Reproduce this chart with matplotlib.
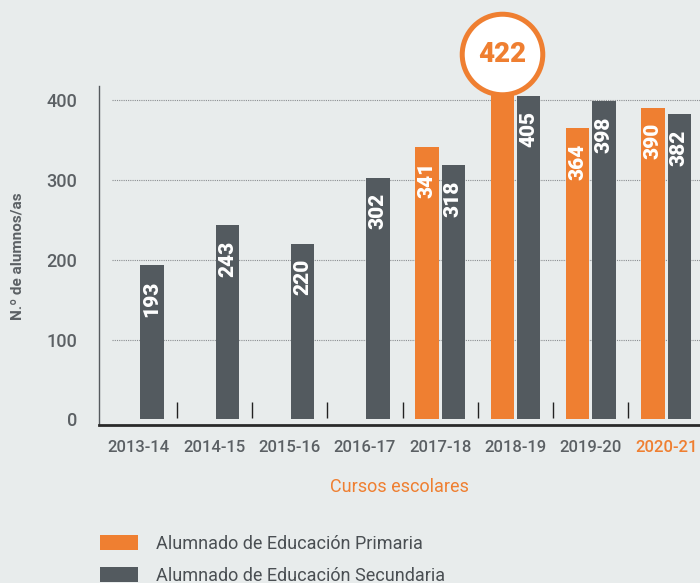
import numpy as np
import matplotlib
matplotlib.use('Agg')
import matplotlib.pyplot as plt

cursos = ['2013-14', '2014-15', '2015-16', '2016-17', '2017-18', '2018-19', '2019-20', '2020-21']
primaria = [np.nan, np.nan, np.nan, np.nan, 341, 422, 364, 390]
secundaria = [193, 243, 220, 302, 318, 405, 398, 382]
destacado = 5  # curso 2018-19, valor en círculo

ORANGE = '#ef7f31'
GRAY = '#535a5f'
BG = '#e8ecec'
TXT = '#5b6064'

plt.rcParams['font.family'] = ['Roboto', 'DejaVu Sans']

fig = plt.figure(figsize=(7, 5.83), dpi=100, facecolor=BG)
W, H = 700, 583
ax = fig.add_axes([99 / W, (H - 425) / H, (W - 99) / W, (425 - 86) / H])
ax.set_facecolor(BG)

x = np.arange(len(cursos))
off, bw = 0.175, 0.31

# grid
ax.hlines([100, 200, 300, 400], -0.357, 8, colors='#8a8d90', linestyles=(0, (1, 1)), lw=0.8, zorder=1)

prim = np.array(primaria, dtype=float)
mask = ~np.isnan(prim)
bp = ax.bar(x[mask] - off, prim[mask], width=bw, color=ORANGE, zorder=2, clip_on=False,
            label='Alumnado de Educación Primaria')
bs = ax.bar(x + off, secundaria, width=bw, color=GRAY, zorder=2,
            label='Alumnado de Educación Secundaria')

for xi, v in zip(x[mask], prim[mask]):
    if xi == destacado:
        continue
    ax.text(xi - off, v - 19, f'{int(v)}', rotation=90, ha='center', va='top',
            color='white', fontsize=15, fontweight='black', zorder=3)
for xi, v in zip(x, secundaria):
    ax.text(xi + off, v - 19, f'{v}', rotation=90, ha='center', va='top',
            color='white', fontsize=15, fontweight='black', zorder=3)

# círculo del valor destacado
ax.plot([destacado - off], [457], marker='o', markersize=58, markerfacecolor='white',
        markeredgecolor=ORANGE, markeredgewidth=3.6, clip_on=False, zorder=4)
ax.text(destacado - off, 457, f'{int(prim[destacado])}', ha='center', va='center',
        color=ORANGE, fontsize=20, fontweight='black', zorder=5, clip_on=False)

# separadores entre cursos
ax.vlines(x[:-1] + 0.5, 2, 22, colors='#222222', lw=1, zorder=2)

ax.set_xlim(-0.53, 7.45)
ax.set_ylim(-6.9, 417)
ax.set_yticks([0, 100, 200, 300, 400])
ax.set_xticks(x)
ax.set_xticklabels(cursos)
ax.tick_params(axis='both', length=0)
ax.tick_params(axis='y', pad=16, labelsize=13, labelcolor=TXT)
ax.tick_params(axis='x', pad=11, labelsize=12, labelcolor=TXT)
for lab in ax.get_xticklabels() + ax.get_yticklabels():
    lab.set_fontweight('medium')
ax.get_xticklabels()[-1].set_color(ORANGE)

for s in ['top', 'right']:
    ax.spines[s].set_visible(False)
ax.spines['left'].set_color('#555a5e')
ax.spines['left'].set_linewidth(1)
ax.spines['bottom'].set_color('#2a2a2a')
ax.spines['bottom'].set_linewidth(2)

ax.set_xlabel('Cursos escolares', color=ORANGE, fontsize=13)
ax.xaxis.set_label_coords(0.5, -0.155)
fig.text(18 / W, 1 - 256 / H, 'N.º de alumnos/as', rotation=90, ha='center', va='center',
         color=TXT, fontsize=11, fontweight='bold')

fig.legend(handles=[bp, bs], loc='upper left', bbox_to_anchor=(100 / W, 1 - 535 / H),
           frameon=False, fontsize=13, handlelength=2.1, handleheight=0.9,
           handletextpad=1.0, labelspacing=0.75, borderpad=0, borderaxespad=0,
           labelcolor='#4a4f53')

fig.savefig('out.png', dpi=100, facecolor=BG)
